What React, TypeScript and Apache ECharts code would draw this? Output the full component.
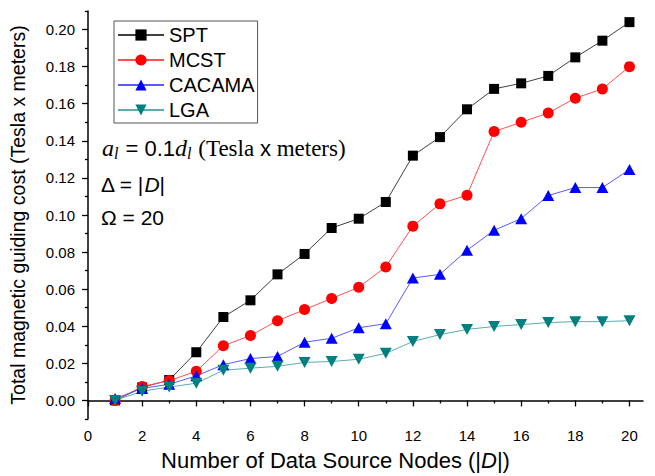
import React, { useEffect, useRef } from "react";
import * as echarts from "echarts";

const nodes = [1, 2, 3, 4, 5, 6, 7, 8, 9, 10, 11, 12, 13, 14, 15, 16, 17, 18, 19, 20];
const spt = [0.0, 0.007, 0.011, 0.026, 0.045, 0.054, 0.068, 0.079, 0.093, 0.098, 0.107, 0.132, 0.142, 0.157, 0.168, 0.171, 0.175, 0.185, 0.194, 0.204];
const mcst = [0.0, 0.0075, 0.0107, 0.0157, 0.0295, 0.035, 0.043, 0.049, 0.055, 0.061, 0.072, 0.094, 0.106, 0.1107, 0.145, 0.15, 0.155, 0.163, 0.168, 0.18];
const cacama = [0.001, 0.0065, 0.0087, 0.0133, 0.0193, 0.0226, 0.0237, 0.0314, 0.0335, 0.0392, 0.0414, 0.066, 0.068, 0.081, 0.0918, 0.098, 0.1105, 0.1148, 0.1148, 0.1245];
const lga = [0.0, 0.005, 0.0072, 0.0093, 0.0163, 0.0174, 0.0184, 0.0205, 0.021, 0.0222, 0.0254, 0.0318, 0.0355, 0.0383, 0.0399, 0.0409, 0.042, 0.0425, 0.0425, 0.043];

const xMajorTicks = [0, 2, 4, 6, 8, 10, 12, 14, 16, 18, 20];
const xMinorTicks = [1, 3, 5, 7, 9, 11, 13, 15, 17, 19];
const yMajorTicks = [0, 0.02, 0.04, 0.06, 0.08, 0.1, 0.12, 0.14, 0.16, 0.18, 0.2];
const yMinorTicks = [-0.01, 0.01, 0.03, 0.05, 0.07, 0.09, 0.11, 0.13, 0.15, 0.17, 0.19, 0.21];

const SANS = "Liberation Sans, Arial, sans-serif";
const SERIF = "Liberation Serif, Times New Roman, serif";

const pairs = (ys: number[]) => nodes.map((x, i) => [x, ys[i]]);

export default function App() {
  const ref = useRef<HTMLDivElement>(null);
  useEffect(() => {
    if (!ref.current) return;
    const chart = echarts.init(ref.current, null, { renderer: "svg" });
    const tickLine = { color: "#000", width: 1.3 };
    const mkSeries = (name: string, data: number[], symbol: string, size: any, color: string, lineColor: string) => ({
      name,
      type: "line",
      xAxisIndex: 0,
      yAxisIndex: 0,
      data: pairs(data),
      symbol,
      symbolSize: size,
      itemStyle: { color },
      lineStyle: { color: lineColor, width: 1 },
    });
    chart.setOption({
      animation: false,
      backgroundColor: "#fff",
      grid: { left: 87.5, right: 12, top: 11, bottom: 54, containLabel: false },
      legend: {
        orient: "vertical",
        left: 114,
        top: 21,
        itemWidth: 46,
        itemHeight: 14,
        itemGap: 5,
        padding: [4, 3, 3, 3],
        borderColor: "#555",
        borderWidth: 1,
        textStyle: { fontSize: 20, fontFamily: SANS, color: "#000" },
        data: ["SPT", "MCST", "CACAMA", "LGA"],
      },
      xAxis: [
        {
          type: "value",
          min: 0,
          max: 20.5,
          position: "bottom",
          name: "{n|Number of Data Source Nodes (|}{i|D}{n||)}",
          nameLocation: "middle",
          nameGap: 30,
          nameTextStyle: {
            fontSize: 22,
            fontFamily: SANS,
            color: "#000",
            padding: [0, 60, 0, 0],
            rich: {
              n: { fontSize: 22, fontFamily: SANS, color: "#000" },
              i: { fontSize: 22, fontFamily: SANS, fontStyle: "italic", color: "#000" },
            },
          },
          axisLine: { show: true, lineStyle: { color: "#000", width: 1.5 } },
          axisTick: { show: true, customValues: xMajorTicks, length: 6, lineStyle: tickLine },
          axisLabel: { show: true, customValues: xMajorTicks, fontSize: 15, fontFamily: SANS, color: "#000", margin: 9 },
          splitLine: { show: false },
        },
        {
          type: "value",
          min: 0,
          max: 20.5,
          position: "bottom",
          offset: 0,
          axisLine: { show: false },
          axisTick: { show: true, customValues: xMinorTicks, length: 3, lineStyle: tickLine },
          axisLabel: { show: false },
          splitLine: { show: false },
        },
      ],
      yAxis: [
        {
          type: "value",
          min: -0.01,
          max: 0.21,
          position: "left",
          name: "Total magnetic guiding cost (Tesla x meters)",
          nameLocation: "middle",
          nameGap: 60,
          nameTextStyle: { fontSize: 19.5, fontFamily: SANS, color: "#000" },
          axisLine: { show: true, lineStyle: { color: "#000", width: 1.5 } },
          axisTick: { show: true, customValues: yMajorTicks, length: 6, lineStyle: tickLine },
          axisLabel: {
            show: true,
            customValues: yMajorTicks,
            fontSize: 15,
            fontFamily: SANS,
            color: "#000",
            margin: 13,
            formatter: (v: number) => v.toFixed(2),
          },
          splitLine: { show: false },
        },
        {
          type: "value",
          min: -0.01,
          max: 0.21,
          position: "left",
          offset: 0,
          axisLine: { show: false },
          axisTick: { show: true, customValues: yMinorTicks, length: 3, lineStyle: tickLine },
          axisLabel: { show: false },
          splitLine: { show: false },
        },
      ],
      graphic: [
        {
          type: "text",
          x: 102,
          y: 148,
          style: {
            text: "{ai|a}{sub|l}{ar| = 0.1}{ai|d}{sub|l}{tr| (Tesla }{ar|x}{tr| meters)}",
            verticalAlign: "middle",
            fill: "#000",
            rich: {
              ai: { fontFamily: SERIF, fontStyle: "italic", fontSize: 24, fill: "#000" },
              sub: { fontFamily: SERIF, fontStyle: "italic", fontSize: 16, fill: "#000", padding: [10, 1, 0, 0] },
              ar: { fontFamily: SANS, fontSize: 22, fill: "#000" },
              tr: { fontFamily: SERIF, fontSize: 23, fill: "#000" },
            },
          },
        },
        {
          type: "text",
          x: 101,
          y: 184,
          style: {
            text: "{s|Δ = |}{i|D}{s||}",
            verticalAlign: "middle",
            fill: "#000",
            rich: {
              s: { fontFamily: SANS, fontSize: 21, fill: "#000" },
              i: { fontFamily: SANS, fontStyle: "italic", fontSize: 21, fill: "#000" },
            },
          },
        },
        {
          type: "text",
          x: 101,
          y: 217,
          style: {
            text: "Ω = 20",
            verticalAlign: "middle",
            fill: "#000",
            fontFamily: SANS,
            fontSize: 21,
          },
        },
      ],
      series: [
        mkSeries("SPT", spt, "rect", 10, "#000000", "#404040"),
        mkSeries("MCST", mcst, "circle", 11, "#ff0000", "#ff5050"),
        mkSeries("CACAMA", cacama, "triangle", [12, 11], "#0000ff", "#5a5aff"),
        mkSeries("LGA", lga, "path://M0,0L12,0L6,11Z", [12, 11], "#008080", "#5aaeae"),
      ],
    });
    return () => chart.dispose();
  }, []);
  return (
    <div
      ref={ref}
      style={{ position: "fixed", left: 0, top: 0, width: 655, height: 476, background: "#fff" }}
    />
  );
}
